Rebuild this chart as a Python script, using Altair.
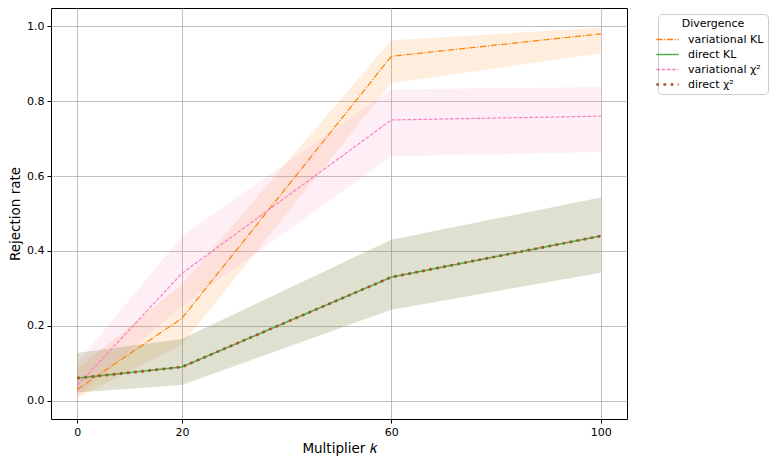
import altair as alt
import pandas as pd

series = ["variational KL", "direct KL", "variational χ²", "direct χ²"]
colors = ["#ff7f00", "#4daf4a", "#f781bf", "#a65628"]
dashes = [[6.4, 1.6, 1, 1.6], [1, 0], [3.7, 1.6], [2.7, 4.45]]
widths = [1.2, 1.5, 1.2, 2.7]

k_values = [0, 20, 60, 100]

var_kl = [0.03, 0.22, 0.92, 0.98]
var_kl_lo = [0.008, 0.15, 0.848, 0.928]
var_kl_hi = [0.085, 0.31, 0.963, 0.996]

dir_kl = [0.06, 0.09, 0.33, 0.44]
dir_kl_lo = [0.022, 0.042, 0.243, 0.342]
dir_kl_hi = [0.127, 0.165, 0.43, 0.543]

var_chi = [0.04, 0.34, 0.75, 0.76]
var_chi_lo = [0.012, 0.252, 0.653, 0.664]
var_chi_hi = [0.10, 0.44, 0.831, 0.838]

dir_chi = [0.06, 0.09, 0.33, 0.44]
dir_chi_lo = [0.022, 0.042, 0.243, 0.342]
dir_chi_hi = [0.127, 0.165, 0.43, 0.543]

rows = []
for name, w, mid, lo, hi in zip(
    series,
    widths,
    [var_kl, dir_kl, var_chi, dir_chi],
    [var_kl_lo, dir_kl_lo, var_chi_lo, dir_chi_lo],
    [var_kl_hi, dir_kl_hi, var_chi_hi, dir_chi_hi],
):
    for k, m, l, h in zip(k_values, mid, lo, hi):
        rows.append({"k": k, "rate": m, "lo": l, "hi": h, "Divergence": name, "sw": w})
df = pd.DataFrame(rows)

font = "DejaVu Sans"
ydom = [-0.049, 1.049]

x = alt.X(
    "k:Q",
    title="Multiplier 𝑘",
    scale=alt.Scale(domain=[-5, 105], nice=False, zero=False),
    axis=alt.Axis(values=k_values, format="d"),
)
y = alt.Y(
    "rate:Q",
    title="Rejection rate",
    scale=alt.Scale(domain=ydom, nice=False, zero=False),
    axis=alt.Axis(values=[0, 0.2, 0.4, 0.6, 0.8, 1.0], format=".1f"),
)

color_scale = alt.Scale(domain=series, range=colors)

bands = alt.Chart(df).mark_area(opacity=0.13).encode(
    x=x,
    y=alt.Y("lo:Q", scale=alt.Scale(domain=ydom, nice=False, zero=False), title="Rejection rate"),
    y2="hi:Q",
    color=alt.Color("Divergence:N", scale=color_scale, title="Divergence"),
)

lines = alt.Chart(df).mark_line().encode(
    x=x,
    y=y,
    color=alt.Color("Divergence:N", scale=color_scale, title="Divergence"),
    strokeDash=alt.StrokeDash("Divergence:N", scale=alt.Scale(domain=series, range=dashes), title="Divergence"),
    strokeWidth=alt.StrokeWidth("sw:Q", scale=None, legend=None),
)

chart = (
    alt.layer(bands, lines)
    .properties(width=576, height=411, padding={"left": 0, "top": 0, "right": 0, "bottom": 5})
    .configure_view(stroke="black", strokeWidth=1)
    .configure_axis(
        grid=True,
        gridColor="#b0b0b0",
        gridWidth=0.8,
        domain=False,
        tickColor="black",
        tickSize=4,
        labelFont=font,
        labelFontSize=11,
        labelColor="black",
        titleFont=font,
        titleFontSize=13.5,
        titleFontWeight="normal",
        titleColor="black",
        labelPadding=3,
    )
    .configure_legend(
        orient="none",
        legendX=607,
        legendY=6,
        strokeColor="#cccccc",
        cornerRadius=4,
        padding=4,
        titleFont=font,
        titleFontSize=11,
        titleFontWeight="normal",
        titleColor="black",
        titleAnchor="middle",
        titlePadding=5,
        labelFont=font,
        labelFontSize=11,
        labelColor="black",
        labelOffset=15,
        symbolType="stroke",
        symbolSize=500,
        symbolOpacity=1,
        symbolStrokeWidth={"expr": "datum.value === 'direct χ²' ? 2.7 : 1.5"},
        rowPadding=3,
    )
)

chart.save("out.html", embed_options={"renderer": "svg", "actions": False})
